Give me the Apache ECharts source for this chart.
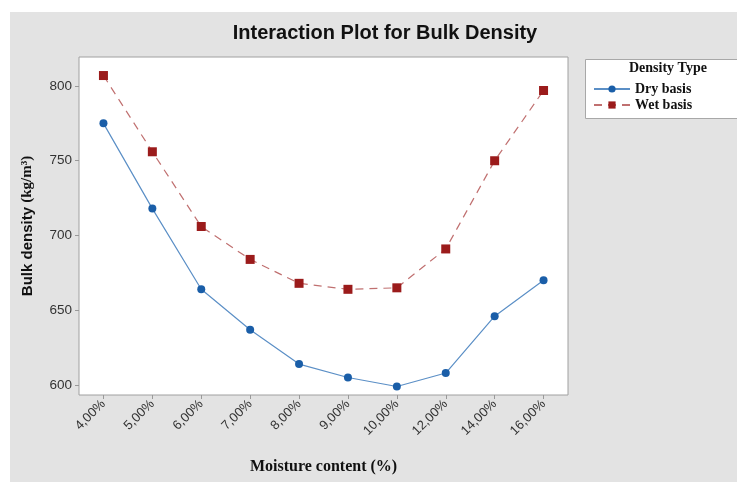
<!DOCTYPE html>
<html>
<head>
<meta charset="utf-8">
<script src="https://cdn.jsdelivr.net/npm/echarts@6/dist/echarts.min.js"></script>
<style>
  html, body { margin: 0; padding: 0; background: #fff; }
  #chart { width: 737px; height: 482px; }
</style>
</head>
<body>
<div id="chart"></div>
<script>
// moisture levels on the x axis
var categories = ['4,00%', '5,00%', '6,00%', '7,00%', '8,00%', '9,00%', '10,00%', '12,00%', '14,00%', '16,00%'];
// bulk density, kg/m3
var dryBasis = [775, 718, 664, 637, 614, 605, 599, 608, 646, 670];
var wetBasis = [807, 756, 706, 684, 668, 664, 665, 691, 750, 797];
var yTicks = [600, 650, 700, 750, 800];

var chart = echarts.init(document.getElementById('chart'));

var option = {
    backgroundColor: '#fff',
    animation: false,
    graphic: [
        // grey panel behind everything
        {type: 'rect', left: 10, top: 12, z: -10, shape: {width: 727, height: 470}, style: {fill: '#e3e3e3'}},
        // legend box
        {type: 'rect', left: 585, top: 59, z: 1, shape: {width: 152, height: 59}, style: {fill: '#fff', stroke: '#a8a8a8', lineWidth: 1}},
        {type: 'text', left: 629, top: 61, z: 2, style: {text: 'Density Type', font: 'bold 14px "Liberation Serif"', fill: '#111'}}
    ],
    title: {
        text: 'Interaction Plot for Bulk Density',
        left: 380,
        top: 18,
        textAlign: 'center',
        textStyle: {fontFamily: 'Liberation Sans', fontWeight: 'bold', fontSize: 20, color: '#111'}
    },
    legend: {
        orient: 'vertical',
        left: 588,
        top: 77,
        z: 3,
        itemWidth: 36,
        itemHeight: 9,
        itemGap: 2,
        textStyle: {fontFamily: 'Liberation Serif', fontWeight: 'bold', fontSize: 14, color: '#111'},
        data: ['Dry basis', 'Wet basis']
    },
    grid: {
        left: 79, top: 57, width: 489, height: 338,
        show: true, backgroundColor: '#fff', borderColor: '#a0a0a0', borderWidth: 1
    },
    xAxis: {
        type: 'category',
        data: categories,
        boundaryGap: true,
        axisLine: {show: false},
        axisTick: {show: true, alignWithLabel: true, length: 4, lineStyle: {color: '#999'}},
        axisLabel: {rotate: 45, margin: 7, fontFamily: 'Liberation Sans', fontSize: 13, color: '#333'},
        name: 'Moisture content (%)',
        nameLocation: 'middle',
        nameGap: 64,
        nameTextStyle: {fontFamily: 'Liberation Serif', fontWeight: 'bold', fontSize: 16, color: '#111'}
    },
    yAxis: {
        type: 'value',
        min: 593.3,
        max: 819.4,
        splitLine: {show: false},
        axisLine: {show: false},
        axisTick: {show: true, length: 4, lineStyle: {color: '#999'}, customValues: yTicks},
        axisLabel: {margin: 7, fontFamily: 'Liberation Sans', fontSize: 13.5, color: '#333', customValues: yTicks},
        name: '{a|Bulk density }{b|(kg/m³)}',
        nameLocation: 'middle',
        nameRotate: 90,
        nameGap: 44,
        nameTextStyle: {
            rich: {
                a: {fontFamily: 'Liberation Sans', fontWeight: 'bold', fontSize: 15, color: '#111'},
                b: {fontFamily: 'Liberation Serif', fontWeight: 'bold', fontSize: 15, color: '#111'}
            }
        }
    },
    series: [
        {
            name: 'Dry basis',
            type: 'line',
            data: dryBasis,
            symbol: 'circle',
            symbolSize: 8,
            itemStyle: {color: '#1a5ea8'},
            lineStyle: {color: '#5b8fc6', width: 1.2, type: 'solid'}
        },
        {
            name: 'Wet basis',
            type: 'line',
            data: wetBasis,
            symbol: 'rect',
            symbolSize: 9,
            itemStyle: {color: '#9b1b1b'},
            lineStyle: {color: '#c07070', width: 1.2, type: [8, 6]}
        }
    ]
};

chart.setOption(option);
</script>
</body>
</html>
